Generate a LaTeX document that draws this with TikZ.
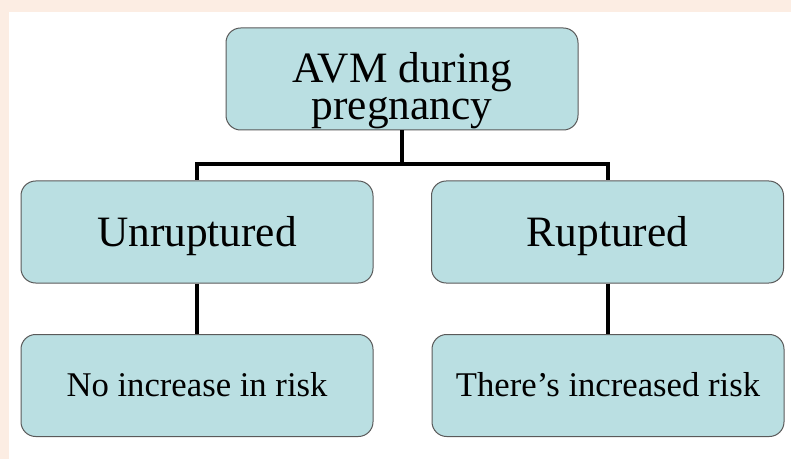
\documentclass[tikz,border=0pt]{standalone}
\usepackage{fontspec}
\setmainfont{Liberation Serif}
\usepackage{tikz}
\usepackage{xcolor}

\definecolor{pagepeach}{RGB}{252,237,227}
\definecolor{boxteal}{RGB}{186,223,226}
\definecolor{boxedge}{RGB}{90,90,90}

% baseline of the text sits #1 below the box centre
\newcommand{\droptext}[2]{\raisebox{-#1}[0pt][0pt]{#2}}

\begin{document}
\begin{tikzpicture}[x=0.75pt,y=0.75pt,yscale=-1,xscale=1,
  treebox/.style={draw=boxedge, line width=0.75pt, fill=boxteal, rounded corners=11pt,
    minimum width=264pt, minimum height=76.5pt, inner sep=0pt, align=center},
  bigtext/.style={font=\fontsize{32.5}{27.75}\selectfont},
  smalltext/.style={font=\fontsize{26}{30}\selectfont},
  branch/.style={line width=3pt, line join=miter}]
  %set diagram size to 791 x 459
  \useasboundingbox (0,0) rectangle (791,459);
  %Page background
  \fill [pagepeach] (0,0) rectangle (791,459);
  \fill [white] (9,12) rectangle (791,459);

  % Boxes
  \node [treebox, bigtext] (avm) at (402,79)
    {\droptext{30.75pt}{\begin{tabular}[b]{@{}c@{}}AVM during\\pregnancy\end{tabular}}};
  \node [treebox, bigtext] (unrup) at (197,232) {\droptext{11pt}{Unruptured}};
  \node [treebox, bigtext] (rup) at (607.5,232) {\droptext{11pt}{Ruptured}};
  \node [treebox, smalltext] (noinc) at (197,385.5) {\droptext{8pt}{No increase in risk}};
  \node [treebox, smalltext] (incr) at (608,385.5) {\droptext{8pt}{There’s increased risk}};

  % Connectors
  \coordinate (split) at (402,164);
  \draw [branch] (avm.south) -- (split) -| (unrup.north);
  \draw [branch] (split) -| (rup.north);
  \draw [branch] (unrup.south) -- (noinc.north);
  \draw [branch] (rup.south) -- (rup.south |- incr.north);
\end{tikzpicture}
\end{document}
